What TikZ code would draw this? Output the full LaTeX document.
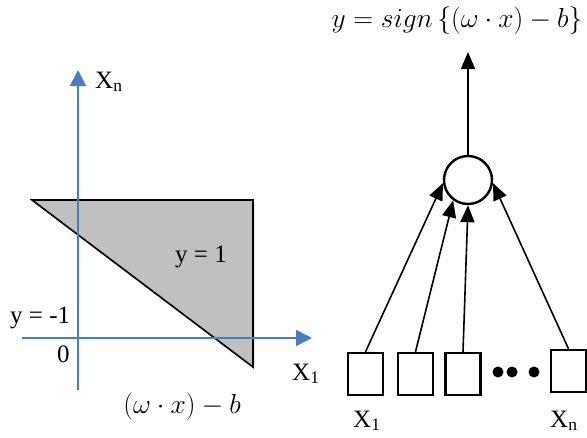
\RequirePackage{fix-cm}
\documentclass[tikz,border=0pt]{standalone}
\usepackage{fontspec}
\setmainfont{Liberation Serif}
\usetikzlibrary{arrows.meta,shadows}
\definecolor{axisblue}{RGB}{74,126,187}
\definecolor{regiongray}{RGB}{192,192,192}

\begin{document}
\begin{tikzpicture}[x=1pt,y=-1pt,
  axis/.style={draw=axisblue,line width=1.6pt,-{Triangle[length=16pt,width=16pt]}},
  inbox/.style={draw,line width=2.4pt,minimum width=35pt,minimum height=42pt,inner sep=0pt},
  dotnode/.style={circle,fill,minimum size=11pt,inner sep=0pt},
  wire/.style={line width=1.6pt,-{Triangle[length=17pt,width=14pt]}},
  lbl/.style={font=\fontsize{25}{29}\selectfont,inner sep=0pt},
  mathlbl/.style={font=\fontsize{27.5}{32}\selectfont,inner sep=0pt}]
\useasboundingbox (0,0) rectangle (587,437);

% region y = 1
\filldraw[fill=regiongray,line width=1.6pt,
  drop shadow={opacity=0.3,shadow xshift=1.5pt,shadow yshift=-2.5pt}]
  (32,200) -- (253,200) -- (253,367) -- cycle;

% axes
\draw[axis] (78,390) -- (78,70);
\draw[axis] (22,338) -- (312,338);

\node[lbl,anchor=base west] (xnlbl) at (95,88) {X\textsubscript{n}};
\node[lbl,anchor=base west] (xonelbl) at (292,380) {X\textsubscript{1}};
\node[lbl,anchor=base west] (pos) at (175,262) {y = 1};
\node[lbl,anchor=base west] (neg) at (10,323) {y = -1};
\node[lbl,anchor=base west] (origin) at (57,362) {0};
\node[mathlbl,anchor=base] (margin) at (182,413) {$(\omega\cdot x)-b$};

% perceptron
\node[circle,draw,line width=2.4pt,minimum size=48pt,inner sep=0pt] (sum) at (468,180) {};
\coordinate (out) at (468,52);
\node[mathlbl,anchor=base] (eq) at (457,27) {$y = sign\,\{(\omega\cdot x)-b\}$};

\node[inbox] (in1) at (365.5,374) {};
\node[inbox] (in2) at (415.5,374) {};
\node[inbox] (in3) at (463,374) {};
\node[inbox] (inn) at (568.5,371) {};
\node[dotnode] (d1) at (498,372) {};
\node[dotnode] (d2) at (512,372) {};
\node[dotnode] (d3) at (534,372) {};

\draw[wire] (sum) -- (out);
\draw[wire] (in1.north) -- (sum.187);
\draw[wire] (in2.north) -- (sum.234);
\draw[wire] (in3.north) -- (sum.270);
\draw[wire] (inn.north) -- (sum.353);

\node[lbl,anchor=base west] (x1lbl) at (353,427) {X\textsubscript{1}};
\node[lbl,anchor=base west] (xnlbl2) at (550,427) {X\textsubscript{n}};
\end{tikzpicture}
\end{document}
